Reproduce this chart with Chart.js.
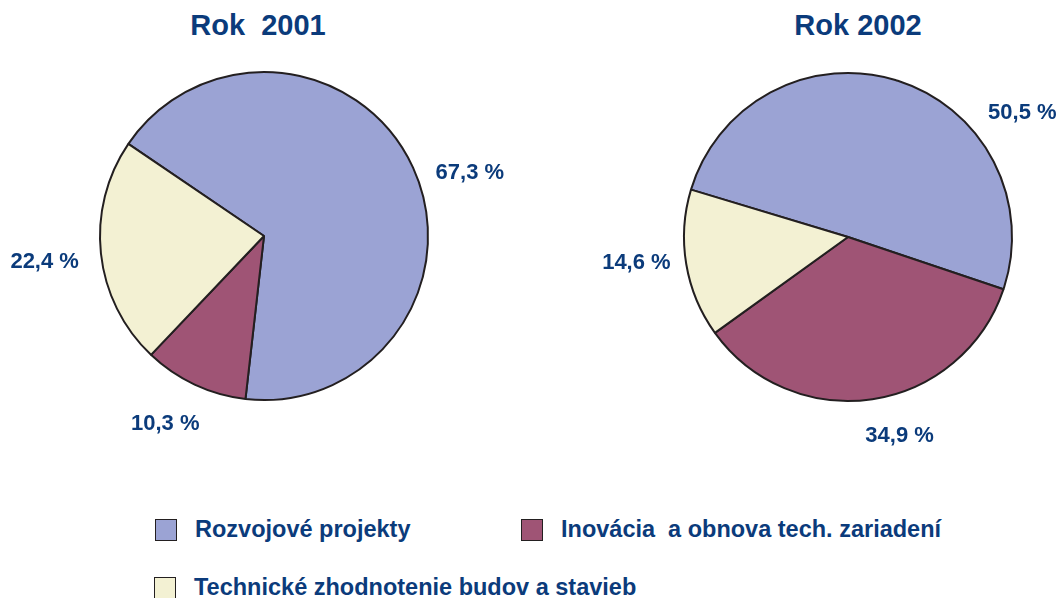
<!DOCTYPE html>
<html>
<head>
<meta charset="utf-8">
<script src="https://cdn.jsdelivr.net/npm/chart.js@4/dist/chart.umd.min.js"></script>
<style>
    html, body { margin: 0; padding: 0; background: #fff; }
    body { width: 1061px; height: 598px; position: relative; overflow: hidden;
           font-family: "Liberation Sans", Arial, sans-serif; font-weight: bold; color: #0b3b7b; }
    .title { position: absolute; top: 9px; width: 300px; text-align: center; font-size: 29px; white-space: pre; }
    .wrap { position: absolute; top: 0; height: 470px; }
    .legend-item { position: absolute; display: flex; align-items: center; font-size: 23.5px; white-space: pre; }
    .legend-item .box { width: 20px; height: 20px; border: 1.5px solid #231f20; margin-right: 18px; }
</style>
</head>
<body>
<div class="title" id="title0" style="left:108px"></div>
<div class="title" id="title1" style="left:708px"></div>
<div class="wrap" style="left:0; width:530px"><canvas id="pie0" width="530" height="470"></canvas></div>
<div class="wrap" style="left:530px; width:531px"><canvas id="pie1" width="531" height="470"></canvas></div>
<div class="legend-item" id="leg0" style="left:155px; top:516px"></div>
<div class="legend-item" id="leg1" style="left:521px; top:516px"></div>
<div class="legend-item" id="leg2" style="left:154px; top:574px"></div>

<script>
// --- Datos ---
const categories = ['Rozvojové projekty', 'Inovácia  a obnova tech. zariadení', 'Technické zhodnotenie budov a stavieb'];
const titles = ['Rok  2001', 'Rok 2002'];
const values2001 = [67.3, 10.3, 22.4];
const values2002 = [50.5, 34.9, 14.6];
const colors = ['#9ba3d4', '#9f5475', '#f3f1d3'];

// inicio del primer sector (grados desde arriba, sentido horario)
const startAngles = [-55.8, -73.2];
// posición de las etiquetas: ángulo y distancia relativa al radio
const labelAngles = [[72.9, 207.7, 263.2], [54.5, 165.5, 263.0]];
const labelDist = [[1.313, 1.295, 1.347], [1.306, 1.256, 1.30]];
const paddings = [
    { left: 99, right: 101, top: 71, bottom: 69 },
    { left: 153, right: 48, top: 72, bottom: 68 }
];

const pctLabels = {
    id: 'pctLabels',
    afterDraw(chart) {
        const idx = chart.options.plugins.pctLabels.idx;
        const meta = chart.getDatasetMeta(0);
        const data = chart.data.datasets[0].data;
        const ctx = chart.ctx;
        ctx.save();
        ctx.font = 'bold 22px "Liberation Sans", Arial, sans-serif';
        ctx.fillStyle = '#0b3b7b';
        ctx.textAlign = 'center';
        ctx.textBaseline = 'middle';
        meta.data.forEach((arc, i) => {
            const a = labelAngles[idx][i] * Math.PI / 180;
            const d = labelDist[idx][i] * arc.outerRadius;
            const x = arc.x + d * Math.sin(a);
            const y = arc.y - d * Math.cos(a);
            ctx.fillText(data[i].toFixed(1).replace('.', ',') + ' %', x, y);
        });
        ctx.restore();
    }
};

function makePie(idx, values) {
    document.getElementById('title' + idx).textContent = titles[idx];
    return new Chart(document.getElementById('pie' + idx), {
        type: 'pie',
        data: {
            labels: categories,
            datasets: [{
                data: values,
                backgroundColor: colors,
                borderColor: '#231f20',
                borderWidth: 2
            }]
        },
        options: {
            responsive: false,
            animation: false,
            rotation: startAngles[idx],
            layout: { padding: paddings[idx] },
            plugins: {
                legend: { display: false },
                tooltip: { enabled: false },
                pctLabels: { idx: idx }
            }
        },
        plugins: [pctLabels]
    });
}

makePie(0, values2001);
makePie(1, values2002);

// leyenda
categories.forEach((c, i) => {
    const el = document.getElementById('leg' + i);
    const box = document.createElement('span');
    box.className = 'box';
    box.style.background = colors[i];
    const txt = document.createElement('span');
    txt.textContent = c;
    el.appendChild(box);
    el.appendChild(txt);
});
</script>
</body>
</html>
